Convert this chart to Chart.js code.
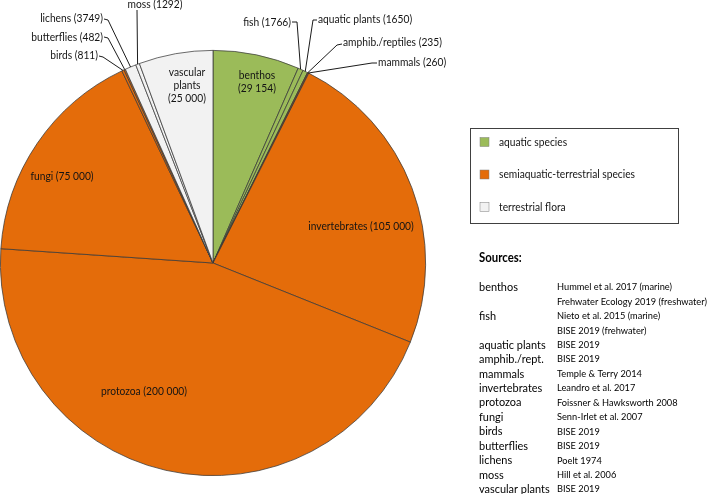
<!DOCTYPE html>
<html lang="en">
<head>
    <meta charset="UTF-8">
    <title>Species diversity</title>
    <script src="https://cdn.jsdelivr.net/npm/chart.js"></script>
    <style>
        body { margin: 0; background: #fff; }
        #wrap { width: 708px; height: 494px; }
    </style>
</head>
<body>
    <div id="wrap"><canvas id="pieChart" width="708" height="494"></canvas></div>

    <script>
        // data
        const categories = ['benthos', 'fish', 'aquatic plants', 'amphib./reptiles', 'mammals',
            'invertebrates', 'protozoa', 'fungi', 'birds', 'butterflies', 'lichens', 'moss', 'vascular plants'];
        const speciesCounts = [29154, 1766, 1650, 235, 260, 105000, 200000, 75000, 811, 482, 3749, 1292, 25000];
        const speciesGroup = ['aq', 'aq', 'aq', 'semi', 'semi', 'semi', 'semi', 'semi', 'semi', 'semi', 'flora', 'flora', 'flora'];

        const groupKeys = ['aq', 'semi', 'flora'];
        const groupNames = ['aquatic species', 'semiaquatic-terrestrial species', 'terrestrial flora'];
        const groupColors = { aq: '#9BBB59', semi: '#E46C0A', flora: '#F2F2F2' };

        const sourceNames = ['benthos', 'fish', 'aquatic plants', 'amphib./rept.', 'mammals', 'invertebrates',
            'protozoa', 'fungi', 'birds', 'butterflies', 'lichens', 'moss', 'vascular plants'];
        const sourceRefs = [
            ['Hummel et al. 2017 (marine)', 'Frehwater Ecology 2019 (freshwater)'],
            ['Nieto et al. 2015 (marine)', 'BISE 2019 (frehwater)'],
            ['BISE 2019'], ['BISE 2019'], ['Temple & Terry 2014'], ['Leandro et al. 2017'],
            ['Foissner & Hawksworth 2008'], ['Senn-Irlet et al. 2007'], ['BISE 2019'], ['BISE 2019'],
            ['Poelt 1974'], ['Hill et al. 2006'], ['BISE 2019']
        ];

        const FONT = 'Lato, "Open Sans", sans-serif';
        const TEXT = '#141414';
        const SX = 0.89; // squeeze Lato to roughly Calibri widths

        // 4-digit numbers stay unspaced, larger ones get a gap
        function fmt(n) {
            return n < 10000 ? String(n) : String(n).replace(/\B(?=(\d{3})+(?!\d))/g, ' ');
        }

        function text(ctx, s, x, y, size, align, weight) {
            ctx.save();
            ctx.font = (weight || 'normal') + ' ' + size + 'px ' + FONT;
            ctx.textAlign = align;
            ctx.textBaseline = 'middle';
            ctx.translate(x, y);
            ctx.scale(SX, 1);
            ctx.fillText(s, 0, 0);
            ctx.restore();
        }

        // label placement: inside labels (centred lines) and leader-line labels
        const insideLabels = {
            'benthos': { x: 257, y: 82, lines: ['benthos', '(' + fmt(29154) + ')'] },
            'vascular plants': { x: 187, y: 85, lines: ['vascular', 'plants', '(' + fmt(25000) + ')'] },
            'invertebrates': { x: 361, y: 226 },
            'protozoa': { x: 144, y: 391 },
            'fungi': { x: 62, y: 176 }
        };
        const leaderLabels = {
            'fish': { tx: 291, ty: 22, align: 'right', pts: [[292, 22], [297, 22]] },
            'aquatic plants': { tx: 318, ty: 19, align: 'left', pts: [[317, 20], [313, 20]] },
            'amphib./reptiles': { tx: 343, ty: 42, align: 'left', pts: [[342, 44], [337, 45]] },
            'mammals': { tx: 378, ty: 62, align: 'left', pts: [[377, 63], [372, 63]] },
            'moss': { tx: 155, ty: 4, align: 'center', pts: [[137, 10]] },
            'lichens': { tx: 103, ty: 18, align: 'right', pts: [[104, 19], [108, 20]] },
            'butterflies': { tx: 103, ty: 37, align: 'right', pts: [[104, 37], [108, 38]] },
            'birds': { tx: 98, ty: 55, align: 'right', pts: [[99, 56], [103, 57]] }
        };

        const pieLabels = {
            id: 'pieLabels',
            afterDraw(chart) {
                const ctx = chart.ctx;
                const arcs = chart.getDatasetMeta(0).data;
                ctx.save();
                ctx.fillStyle = TEXT;
                categories.forEach((name, i) => {
                    const p = arcs[i].getProps(['x', 'y', 'startAngle', 'endAngle', 'outerRadius'], true);
                    const mid = (p.startAngle + p.endAngle) / 2;
                    const ex = p.x + Math.cos(mid) * p.outerRadius;
                    const ey = p.y + Math.sin(mid) * p.outerRadius;
                    const label = name + ' (' + fmt(speciesCounts[i]) + ')';
                    if (insideLabels[name]) {
                        const l = insideLabels[name];
                        const lines = l.lines || [label];
                        lines.forEach((s, k) => {
                            text(ctx, s, l.x, l.y + (k - (lines.length - 1) / 2) * 13, 11.5, 'center');
                        });
                    } else if (leaderLabels[name]) {
                        const l = leaderLabels[name];
                        text(ctx, label, l.tx, l.ty, 11.5, l.align);
                        ctx.strokeStyle = '#000';
                        ctx.lineWidth = 0.9;
                        ctx.beginPath();
                        ctx.moveTo(l.pts[0][0], l.pts[0][1]);
                        l.pts.slice(1).forEach(q => ctx.lineTo(q[0], q[1]));
                        ctx.lineTo(ex, ey);
                        ctx.stroke();
                    }
                });

                // group legend box
                ctx.strokeStyle = '#404040';
                ctx.lineWidth = 1;
                ctx.strokeRect(470.5, 128.5, 208, 95);
                groupKeys.forEach((g, k) => {
                    const cy = 142 + k * 32.5;
                    ctx.fillStyle = groupColors[g];
                    ctx.fillRect(480, cy - 4.5, 9, 9);
                    ctx.strokeStyle = '#7f7f7f';
                    ctx.lineWidth = 0.5;
                    ctx.strokeRect(480, cy - 4.5, 9, 9);
                    ctx.fillStyle = TEXT;
                    text(ctx, groupNames[k], 499, cy, 11.5, 'left');
                });

                // sources table
                ctx.fillStyle = '#000';
                text(ctx, 'Sources:', 479, 258, 12.8, 'left', 'bold');
                let line = 0;
                sourceNames.forEach((n, i) => {
                    text(ctx, n, 479, 287 + line * 14.43, 12.3, 'left');
                    sourceRefs[i].forEach((r, k) => {
                        text(ctx, r, 557, 287 + (line + k) * 14.43, 10.4, 'left');
                    });
                    line += sourceRefs[i].length;
                });
                ctx.restore();
            }
        };

        const ctx = document.getElementById('pieChart').getContext('2d');
        new Chart(ctx, {
            type: 'pie',
            data: {
                labels: categories,
                datasets: [{
                    data: speciesCounts,
                    backgroundColor: speciesGroup.map(g => groupColors[g]),
                    borderColor: '#3a3a3a',
                    borderWidth: 0.75
                }]
            },
            options: {
                responsive: false,
                animation: false,
                layout: { padding: { left: 0, top: 50, right: 282, bottom: 18 } },
                plugins: {
                    legend: { display: false },
                    tooltip: { enabled: false }
                }
            },
            plugins: [pieLabels]
        });
    </script>
</body>
</html>
